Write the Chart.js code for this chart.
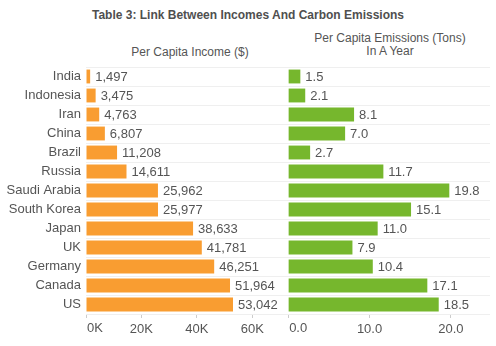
<!DOCTYPE html>
<html>
<head>
<meta charset="utf-8">
<script src="https://cdn.jsdelivr.net/npm/chart.js@4"></script>
<style>
  body { margin: 0; background: #fff; font-family: "Liberation Sans", Arial, sans-serif; }
  #wrap { position: relative; width: 496px; height: 346px; overflow: hidden; }
  .txt { position: absolute; color: #555; text-align: center; white-space: nowrap; }
  #title { left: 0; width: 496px; top: 8px; font-size: 12px; font-weight: bold; color: #4f4f4f; }
  #hLeft { left: 90px; width: 200px; top: 45px; font-size: 12px; }
  #hRight { left: 290px; width: 200px; top: 32px; font-size: 12px; line-height: 13px; }
  canvas { position: absolute; top: 0; }
  #left { left: 0; }
  #right { left: 280px; }
</style>
</head>
<body>
<div id="wrap">
  <div class="txt" id="title">Table 3: Link Between Incomes And Carbon Emissions</div>
  <div class="txt" id="hLeft">Per Capita Income ($)</div>
  <div class="txt" id="hRight">Per Capita Emissions (Tons)<br>In A Year</div>
  <canvas id="left" width="280" height="346"></canvas>
  <canvas id="right" width="216" height="346"></canvas>
</div>
<script>
// ---- data -----------------------------------------------------------
const countries = ["India", "Indonesia", "Iran", "China", "Brazil", "Russia", "Saudi Arabia",
  "South Korea", "Japan", "UK", "Germany", "Canada", "US"];
const income = [1497, 3475, 4763, 6807, 11208, 14611, 25962, 25977, 38633, 41781, 46251, 51964, 53042];
const emissions = [1.5, 2.1, 8.1, 7.0, 2.7, 11.7, 19.8, 15.1, 11.0, 7.9, 10.4, 17.1, 18.5];
const incomeTicks = [0, 20000, 40000, 60000];
const emissionTicks = [0, 10, 20];

// ---- helpers --------------------------------------------------------
const FONT = "'Liberation Sans', Arial, sans-serif";
const TEXT = "#555";
const GRID = "#efefef";

// writes the value just past the end of each bar,
// and the first x tick label left-aligned on its tick (like the original)
const valueLabels = {
  id: "valueLabels",
  afterDatasetsDraw(chart, args, opts) {
    const ctx = chart.ctx;
    const meta = chart.getDatasetMeta(0);
    const data = chart.data.datasets[0].data;
    ctx.save();
    ctx.font = "13px " + FONT;
    ctx.fillStyle = TEXT;
    ctx.textBaseline = "middle";
    meta.data.forEach((bar, i) => {
      ctx.fillText(opts.format(data[i]), bar.x + 5, bar.y + 1);
    });
    const x = chart.scales.x;
    const first = x.ticks[0];
    ctx.textBaseline = "top";
    ctx.fillText(opts.tick(first.value), x.getPixelForValue(first.value) + 1, x.top + 8);
    ctx.restore();
  },
};

function makeChart(id, values, color, xOpts, showCats, fmt, tickFmt) {
  return new Chart(document.getElementById(id), {
    type: "bar",
    data: {
      labels: countries,
      datasets: [{
        data: values,
        backgroundColor: color,
        categoryPercentage: 1,
        barPercentage: 0.73,
      }],
    },
    options: {
      indexAxis: "y",
      responsive: false,
      animation: false,
      layout: { padding: { top: 67, right: showCats ? 0 : 6, left: 0, bottom: 0 } },
      plugins: {
        legend: { display: false },
        tooltip: { enabled: false },
        valueLabels: { format: fmt, tick: tickFmt },
      },
      scales: {
        x: Object.assign({
          position: "bottom",
          border: { display: false },
          grid: { drawOnChartArea: false, drawTicks: true, tickLength: 4, color: "#ccc" },
          ticks: { color: TEXT, font: { size: 13, family: FONT }, padding: 4, maxRotation: 0,
            callback: (v, i) => (i === 0 ? "" : tickFmt(v)) },
          afterFit: (s) => { s.height = 32; s.paddingLeft = 0; s.paddingRight = 0; },
        }, xOpts),
        y: {
          border: { display: false },
          grid: { offset: true, drawTicks: false, color: GRID },
          ticks: { display: showCats, color: TEXT, font: { size: 13, family: FONT }, padding: 5 },
          afterFit: (s) => { s.width = showCats ? 86 : 0; },
        },
      },
    },
    plugins: [valueLabels],
  });
}

// ---- charts ---------------------------------------------------------
makeChart("left", income, "#F99D31", {
  min: 0,
  max: 70000,
  afterBuildTicks: (s) => { s.ticks = incomeTicks.map((v) => ({ value: v })); },
}, true, (v) => v.toLocaleString("en-US"), (v) => (v / 1000) + "K");

makeChart("right", emissions, "#76B72D", {
  min: -1,
  max: 24.8,
  afterBuildTicks: (s) => { s.ticks = emissionTicks.map((v) => ({ value: v })); },
}, false, (v) => v.toFixed(1), (v) => v.toFixed(1));
</script>
</body>
</html>
